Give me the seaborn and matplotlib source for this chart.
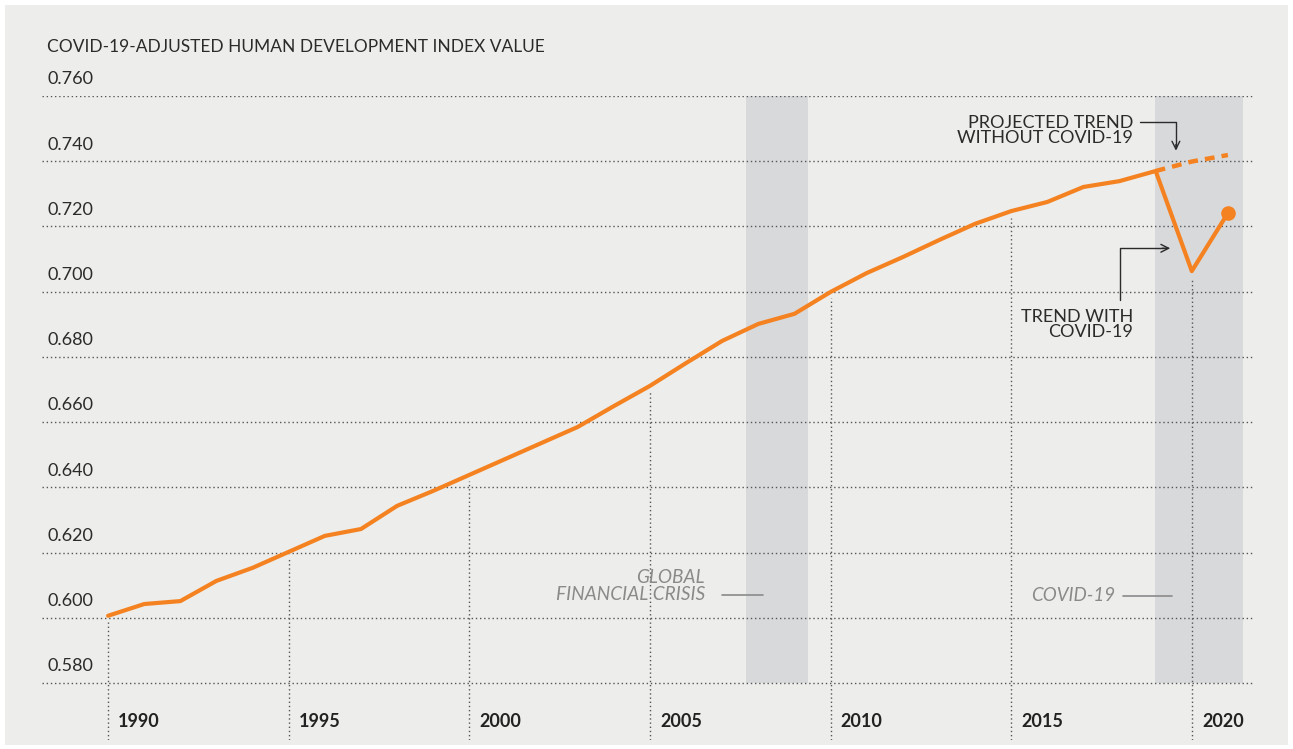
import matplotlib
matplotlib.use("Agg")
import matplotlib.pyplot as plt
import seaborn as sns
import pandas as pd
from matplotlib.patches import Rectangle

years = list(range(1990, 2022))
hdi = [0.6006, 0.6042, 0.6051, 0.6113, 0.6153, 0.6202, 0.6251, 0.6272, 0.6343, 0.6389,
       0.6438, 0.6487, 0.6536, 0.6585, 0.6649, 0.6711, 0.6781, 0.6849, 0.6901, 0.6932,
       0.6999, 0.7057, 0.7106, 0.7158, 0.7208, 0.7247, 0.7275, 0.7321, 0.7339, 0.7370,
       0.7063, 0.7241]
proj_years = [2019, 2020, 2021]
proj_hdi = [0.7370, 0.7399, 0.7419]
ytick_vals = [0.580, 0.600, 0.620, 0.640, 0.660, 0.680, 0.700, 0.720, 0.740, 0.760]
ytick_labels = ["0.580", "0.600", "0.620", "0.640", "0.660", "0.680", "0.700", "0.720", "0.740", "0.760"]
xtick_years = [1990, 1995, 2000, 2005, 2010, 2015, 2020]
xtick_labels = ["1990", "1995", "2000", "2005", "2010", "2015", "2020"]
gfc_span = (2007.66, 2009.37)
covid_span = (2018.98, 2021.41)
title = "COVID-19-ADJUSTED HUMAN DEVELOPMENT INDEX VALUE"

ORANGE = "#F58220"
BG = "#EDEDEB"
SHADE = "#D8D9DB"
DARK = "#2B2B2B"
GRID = "#555555"
ITAL = "#8A8A8A"

sns.set_style("white")
plt.rcParams["font.family"] = ["Lato", "DejaVu Sans"]

fig = plt.figure(figsize=(12.93, 7.49), dpi=100)
fig.patch.set_facecolor("white")
bgrect = Rectangle((5 / 1293, 4 / 749), 1 - 10 / 1293, 1 - 9 / 749,
                   transform=fig.transFigure, facecolor=BG, edgecolor="none", zorder=-10)
fig.patches.append(bgrect)
ax = fig.add_axes([42 / 1293, 1 - 740 / 749, (1255 - 42) / 1293, (740 - 96) / 749])
ax.set_facecolor("none")
ax.set_zorder(1)
for s in ax.spines.values():
    s.set_visible(False)
ax.set_xlim(1988.17, 2021.75)
ax.set_ylim(0.5625, 0.760)

# shaded periods
for a, b in (gfc_span, covid_span):
    ax.fill_between([a, b], 0.580, 0.760, color=SHADE, lw=0, zorder=1)

# horizontal gridlines
for v in ytick_vals:
    ax.axhline(v, color=GRID, lw=1.0, ls=(0, (1, 2)), zorder=2)
# vertical gridlines from bottom up to the data line
val = dict(zip(years, hdi))
for yr in xtick_years:
    ax.vlines(yr, 0.5625, val[yr] - 0.002, color=GRID, lw=1.0, ls=(0, (1, 2)), zorder=2)

df = pd.DataFrame({"year": years, "hdi": hdi})
dfp = pd.DataFrame({"year": proj_years, "hdi": proj_hdi})
sns.lineplot(data=dfp, x="year", y="hdi", ax=ax, color=ORANGE, lw=3.2,
             linestyle=(0, (2.2, 1.6)), zorder=4)
sns.lineplot(data=df, x="year", y="hdi", ax=ax, color=ORANGE, lw=3.0, zorder=5)
ax.plot([years[-1]], [hdi[-1]], "o", color=ORANGE, ms=9.5, zorder=6)
ax.set_xlabel("")
ax.set_ylabel("")
ax.set_xticks([])
ax.set_yticks([])

# y tick labels
for v, lab in zip(ytick_vals, ytick_labels):
    ax.text(1988.31, v + 0.0051, lab, ha="left", va="center", fontsize=13,
            color=DARK, clip_on=False)
# x tick labels
for yr, lab in zip(xtick_years, xtick_labels):
    ax.text(yr + 0.28, 0.5682, lab, ha="left", va="center", fontsize=13,
            fontweight="bold", color="#222222")

fig.text(47 / 1293, 1 - 47 / 749, title, ha="left", va="center", fontsize=12.5, color=DARK)

# annotations
ax.text(2018.37, 0.7494, "PROJECTED TREND\nWITHOUT COVID-19", ha="right", va="center",
        fontsize=13, color=DARK, linespacing=0.95)
ax.plot([2018.56, 2019.56, 2019.56], [0.7520, 0.7520, 0.7440], color=DARK, lw=1.0, zorder=7)
ax.annotate("", xy=(2019.56, 0.7424), xytext=(2019.56, 0.7460),
            arrowprops=dict(arrowstyle="->", color=DARK, lw=1.0, mutation_scale=14))

ax.text(2018.37, 0.6899, "TREND WITH\nCOVID-19", ha="right", va="center",
        fontsize=13, color=DARK, linespacing=0.95)
ax.plot([2018.01, 2018.01, 2019.3], [0.6975, 0.7133, 0.7133], color=DARK, lw=1.0, zorder=7)
ax.annotate("", xy=(2019.48, 0.7133), xytext=(2019.1, 0.7133),
            arrowprops=dict(arrowstyle="->", color=DARK, lw=1.0, mutation_scale=14))

ax.text(2006.52, 0.6097, "GLOBAL\nFINANCIAL CRISIS", ha="right", va="center",
        fontsize=13.7, color=ITAL, style="italic", linespacing=0.95)
ax.plot([2007.0, 2008.12], [0.6070, 0.6070], color=ITAL, lw=1.2, zorder=3)
ax.text(2017.87, 0.6067, "COVID-19", ha="right", va="center",
        fontsize=13.5, color=ITAL, style="italic")
ax.plot([2018.10, 2019.44], [0.6067, 0.6067], color=ITAL, lw=1.2, zorder=3)

fig.savefig("out.png", dpi=100, facecolor=fig.get_facecolor())
